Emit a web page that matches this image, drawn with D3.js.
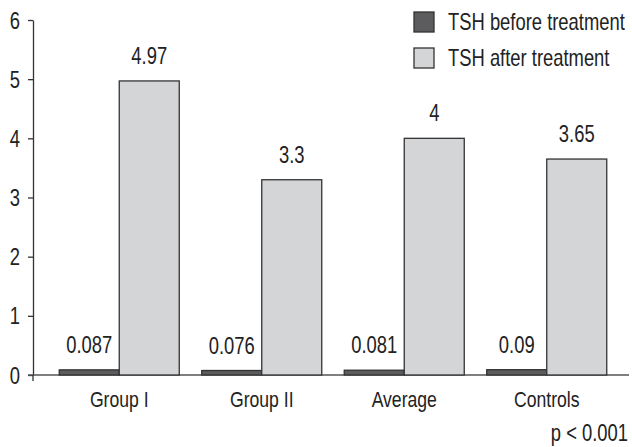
<!DOCTYPE html>
<html>
<head>
<meta charset="utf-8">
<script src="https://cdn.jsdelivr.net/npm/d3@7"></script>
<style>
  body { margin: 0; background: #fff; }
  svg text { font-family: "Liberation Sans", Arial, sans-serif; fill: #222; }
</style>
</head>
<body>
<svg id="chart" width="632" height="447"></svg>
<script>
const categories = ["Group I", "Group II", "Average", "Controls"];
const series = ["TSH before treatment", "TSH after treatment"];
const before = [0.087, 0.076, 0.081, 0.09];
const after = [4.97, 3.3, 4, 3.65];
const beforeLabels = ["0.087", "0.076", "0.081", "0.09"];
const afterLabels = ["4.97", "3.3", "4", "3.65"];
const yTicks = [0, 1, 2, 3, 4, 5, 6];

const colors = ["#5c5c5e", "#d4d5d7"];
const narrow = 0.8; // squeeze Liberation Sans to look like a narrow face

const svg = d3.select("#chart");

const x0 = d3.scaleBand().domain(categories).range([48, 618]).padding(0);
const x1 = d3.scaleBand().domain(series).range([0, 120]).padding(0);
const y = d3.scaleLinear().domain([0, 6]).range([375, 20]);

const groupOffset = (x0.bandwidth() - 120) / 2;

// place a narrow text at (x, y)
function narrowText(sel, x, yy) {
    return sel.attr("x", 0).attr("y", 0)
        .attr("transform", (d, i) => `translate(${typeof x === "function" ? x(d, i) : x},${typeof yy === "function" ? yy(d, i) : yy}) scale(${narrow},1)`);
}

// y axis
const yAxis = svg.append("g").attr("transform", "translate(33,0)")
    .call(d3.axisLeft(y).tickValues(yTicks).tickSize(5).tickSizeOuter(0).tickFormat(d3.format("d")));
yAxis.select(".domain").attr("stroke", "#333").attr("stroke-width", 1.3);
yAxis.selectAll(".tick line").attr("stroke", "#333").attr("stroke-width", 1.3);
yAxis.selectAll(".tick text")
    .attr("x", 0).attr("dy", "0.35em")
    .attr("transform", `translate(-13,0) scale(${narrow},1)`)
    .attr("font-size", 23).attr("fill", "#222");

// x axis baseline
svg.append("line").attr("x1", 28).attr("x2", 629).attr("y1", y(0)).attr("y2", y(0))
    .attr("stroke", "#555").attr("stroke-width", 1.3);
svg.append("line").attr("x1", 33).attr("x2", 33).attr("y1", y(0)).attr("y2", y(0) + 6)
    .attr("stroke", "#333").attr("stroke-width", 1.3);

const rows = categories.map((c, i) => ({c, vals: [before[i], after[i]], labels: [beforeLabels[i], afterLabels[i]]}));

const groups = svg.selectAll("g.grp").data(rows).join("g")
    .attr("class", "grp")
    .attr("transform", d => `translate(${x0(d.c) + groupOffset},0)`);

groups.selectAll("rect").data(d => d.vals.map((v, j) => ({s: series[j], v, j}))).join("rect")
    .attr("x", d => x1(d.s))
    .attr("y", d => y(d.v))
    .attr("width", x1.bandwidth())
    .attr("height", d => y(0) - y(d.v))
    .attr("fill", d => colors[d.j])
    .attr("stroke", "#333")
    .attr("stroke-width", 1.3);

groups.selectAll("text.val").data(d => d.vals.map((v, j) => ({s: series[j], v, label: d.labels[j]}))).join("text")
    .attr("class", "val")
    .call(narrowText, d => x1(d.s) + x1.bandwidth() / 2, d => y(d.v) - 17)
    .attr("text-anchor", "middle")
    .attr("font-size", 23)
    .text(d => d.label);

// category labels
svg.selectAll("text.cat").data(categories).join("text")
    .attr("class", "cat")
    .call(narrowText, d => x0(d) + x0.bandwidth() / 2, 407)
    .attr("text-anchor", "middle")
    .attr("font-size", 22)
    .text(d => d);

// legend
const legend = svg.selectAll("g.leg").data(series).join("g")
    .attr("class", "leg")
    .attr("transform", (d, i) => `translate(414,${12 + i * 36})`);
legend.append("rect").attr("width", 20).attr("height", 20)
    .attr("fill", (d, i) => colors[i]).attr("stroke", "#333").attr("stroke-width", 1.3);
legend.append("text").call(narrowText, 34, 18).attr("font-size", 23).text(d => d);

svg.append("text").call(narrowText, 628, 441).attr("text-anchor", "end")
    .attr("font-size", 23).text("p < 0.001");
</script>
</body>
</html>
